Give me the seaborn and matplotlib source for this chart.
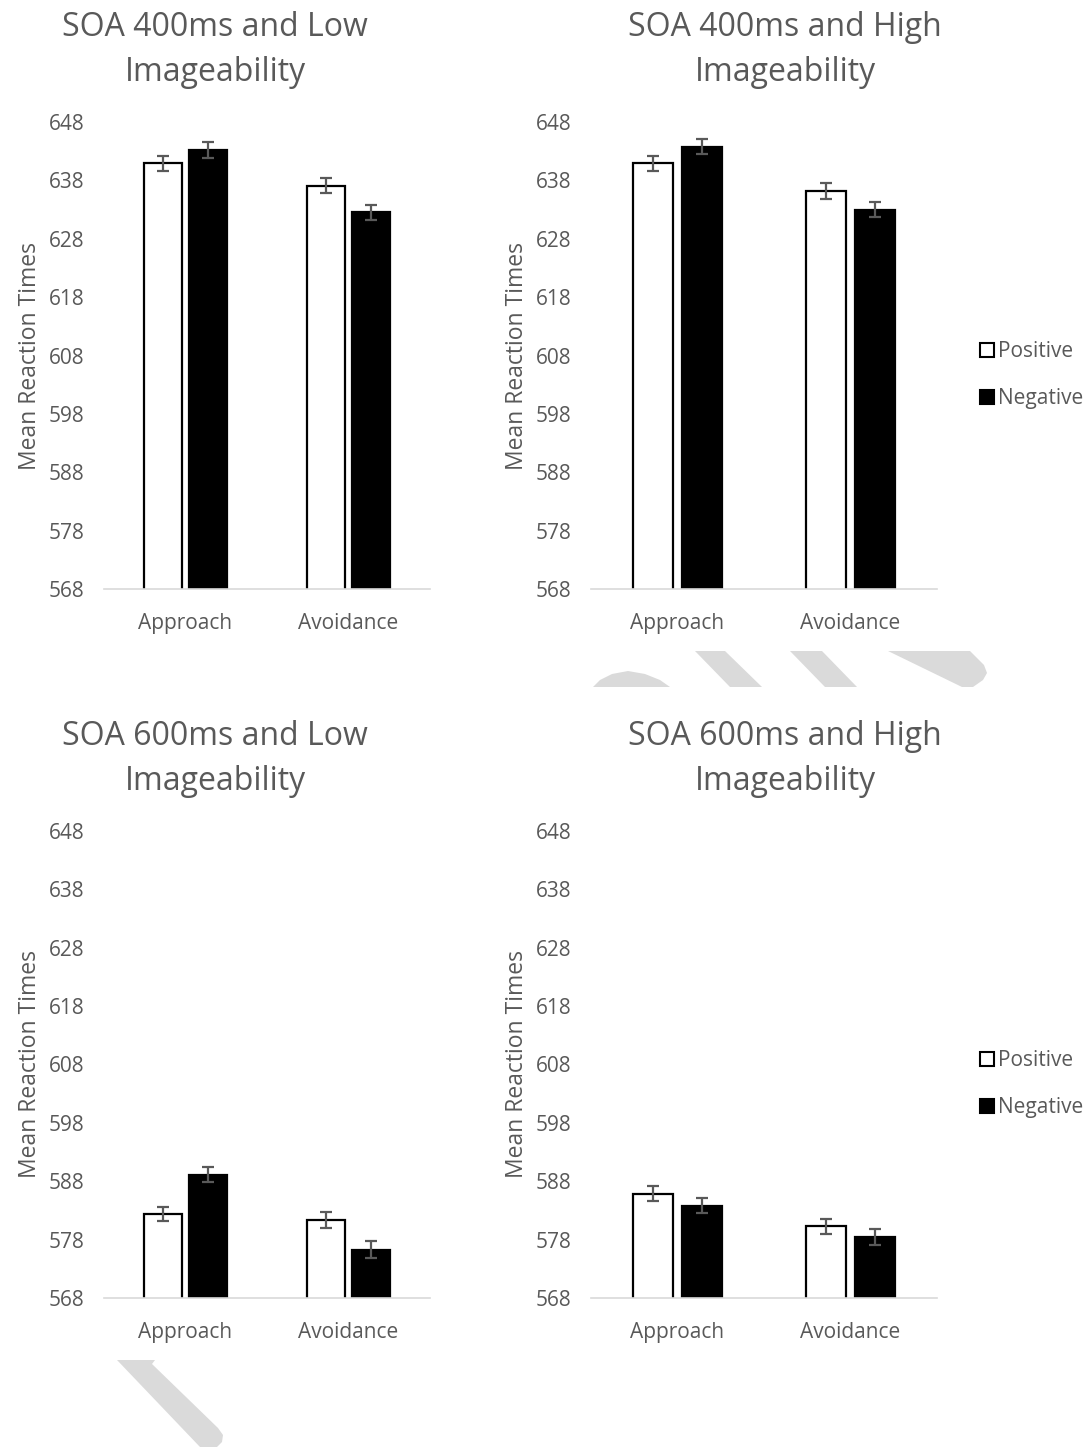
import matplotlib
matplotlib.use("Agg")
import matplotlib.pyplot as plt
import seaborn as sns
import pandas as pd
from matplotlib.patches import Polygon
from matplotlib.lines import Line2D

sns.set_theme(style="white")
plt.rcParams['font.family'] = ['Open Sans', 'DejaVu Sans']

# ---- data ----
categories = ["Approach", "Avoidance"]
valences = ["Positive", "Negative"]
titles = ["SOA 400ms and Low\nImageability", "SOA 400ms and High\nImageability",
          "SOA 600ms and Low\nImageability", "SOA 600ms and High\nImageability"]
# means: [Approach-Pos, Approach-Neg, Avoidance-Pos, Avoidance-Neg]
means_400_low = [640.9, 643.2, 637.1, 632.5]
means_400_high = [640.9, 643.8, 636.1, 633.0]
means_600_low = [582.4, 589.1, 581.4, 576.3]
means_600_high = [585.9, 583.8, 580.3, 578.4]
err_400_low = [1.26, 1.29, 1.34, 1.31]
err_400_high = [1.31, 1.29, 1.37, 1.34]
err_600_low = [1.23, 1.30, 1.40, 1.40]
err_600_high = [1.25, 1.30, 1.30, 1.37]
yticks = [568, 578, 588, 598, 608, 618, 628, 638, 648]

panels = [(means_400_low, err_400_low), (means_400_high, err_400_high),
          (means_600_low, err_600_low), (means_600_high, err_600_high)]

W, H = 1087, 1447
fig = plt.figure(figsize=(W / 100, H / 100), dpi=100)

def fx(x):
    return x / W

def fy(y):
    return 1 - y / H

# axes rectangles in pixel coords (left, top, right, bottom)
rects = [(104, 122, 430, 589), (591, 122, 937, 589),
         (104, 831, 430, 1298), (591, 831, 937, 1298)]
# title centres in pixels
title_pos = [(215, 50), (785, 50), (215, 759), (785, 759)]

GRAY = "#595959"

for i, ((means, errs), (l, t, r, b)) in enumerate(zip(panels, rects)):
    ax = fig.add_axes([fx(l), fy(b), fx(r) - fx(l), fy(t) - fy(b)])
    df = pd.DataFrame({
        "cat": [categories[0], categories[0], categories[1], categories[1]],
        "val": [valences[0], valences[1], valences[0], valences[1]],
        "rt": means,
    })
    sns.barplot(data=df, x="cat", y="rt", hue="val", order=categories,
                hue_order=valences, palette={"Positive": "white", "Negative": "black"},
                edgecolor="black", linewidth=1.6, width=0.56, gap=0.17,
                errorbar=None, legend=False, ax=ax)
    # error bars at bar centers
    bar_containers = list(ax.containers)
    for hi, cont in enumerate(bar_containers):
        for ci, bar in enumerate(cont.patches):
            idx = ci * 2 + hi
            xc = bar.get_x() + bar.get_width() / 2
            ax.errorbar(xc, means[idx], yerr=errs[idx], fmt="none",
                        ecolor=GRAY, elinewidth=1.6, capsize=4.5, capthick=1.6, zorder=5)
    ax.set_ylim(568, 648)
    ax.set_xlim(-0.5, 1.5)
    ax.set_yticks(yticks)
    ax.set_yticklabels([str(v) for v in yticks])
    ax.tick_params(axis="both", length=0, labelsize=15, colors=GRAY)
    ax.tick_params(axis="y", pad=14)
    ax.tick_params(axis="x", pad=17)
    for s in ["left", "right", "top"]:
        ax.spines[s].set_visible(False)
    ax.spines["bottom"].set_color("#d9d9d9")
    ax.spines["bottom"].set_linewidth(1.2)
    ax.set_xlabel("")
    ax.set_ylabel("Mean Reaction Times", fontsize=16.5, color=GRAY, labelpad=5)
    ax.grid(False)
    tx, ty = title_pos[i]
    fig.text(fx(tx), fy(ty), titles[i], fontsize=23, color=GRAY, ha="center",
             va="center", linespacing=1.45)

# legends
for ly in (375, 1084):
    handles = [Line2D([], [], marker="s", linestyle="none", markersize=10,
                      markerfacecolor="white", markeredgecolor="black", markeredgewidth=1.5),
               Line2D([], [], marker="s", linestyle="none", markersize=10,
                      markerfacecolor="black", markeredgecolor="black", markeredgewidth=1.5)]
    fig.legend(handles, valences, loc="center left", bbox_to_anchor=(fx(968), fy(ly)),
               frameon=False, fontsize=15, labelcolor=GRAY, handlelength=0.8,
               handletextpad=0.15, labelspacing=1.25, borderpad=0)

# light gray watermark fragments
WM = "#dadada"

def poly(pts):
    fig.add_artist(Polygon([(fx(x), fy(y)) for x, y in pts], closed=True,
                           transform=fig.transFigure, facecolor=WM, edgecolor="none", zorder=0))

poly([(593, 687), (600, 680), (612, 674), (628, 671), (645, 674), (660, 680), (670, 687)])
poly([(695, 651), (725, 651), (762, 687), (730, 687)])
poly([(790, 651), (822, 651), (857, 687), (825, 687)])
poly([(888, 651), (970, 651), (984, 665), (987, 673), (983, 680), (973, 687), (962, 687)])
poly([(117, 1360), (155, 1360), (152, 1364), (218, 1428), (223, 1435), (222, 1442),
      (217, 1447), (200, 1447)])

fig.savefig("out.png", dpi=100, facecolor="white")
